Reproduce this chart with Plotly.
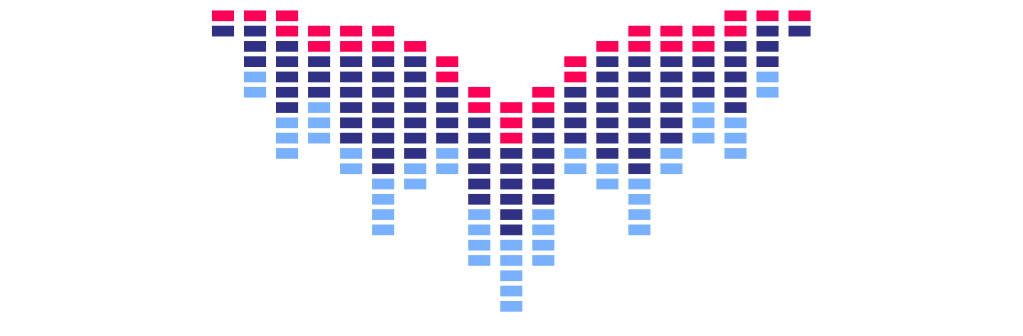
import plotly.graph_objects as go

# Data: per column, number of empty cells at top, then red / dark / light cells
columns = list(range(19))
offset = [0, 0, 0, 1, 1, 1, 2, 3, 5, 6, 5, 3, 2, 1, 1, 1, 0, 0, 0]
red_counts = [1, 1, 2, 2, 2, 2, 1, 2, 2, 3, 2, 2, 1, 2, 2, 2, 2, 1, 1]
dark_counts = [1, 3, 5, 3, 6, 8, 7, 4, 6, 6, 6, 4, 7, 8, 6, 3, 5, 3, 1]
light_counts = [0, 2, 3, 3, 2, 4, 2, 2, 4, 5, 4, 2, 2, 4, 2, 3, 3, 2, 0]

series = [
    ("red", red_counts, "#FF0055"),
    ("dark", dark_counts, "#303184"),
    ("light", light_counts, "#7AB1FF"),
]

CELL_H = 0.70
PAD = (1 - CELL_H) / 2

fig = go.Figure()
start = list(offset)
for name, counts, color in series:
    xs, bases = [], []
    for i, c in enumerate(columns):
        for k in range(counts[i]):
            xs.append(c)
            bases.append(start[i] + k + PAD)
        start[i] += counts[i]
    fig.add_trace(go.Bar(
        x=xs, y=[CELL_H] * len(xs), base=bases, name=name,
        width=0.69,
        marker=dict(color=color, line=dict(width=0)),
        hoverinfo="skip",
    ))

fig.update_layout(
    width=1023, height=336,
    margin=dict(l=0, r=0, t=0, b=0),
    paper_bgcolor="white", plot_bgcolor="white",
    barmode="overlay", showlegend=False,
    xaxis=dict(range=[-6.962, 24.976], visible=False, fixedrange=True),
    yaxis=dict(range=[21.44, -0.5334], visible=False, fixedrange=True),
)

fig.write_html("out.html")
